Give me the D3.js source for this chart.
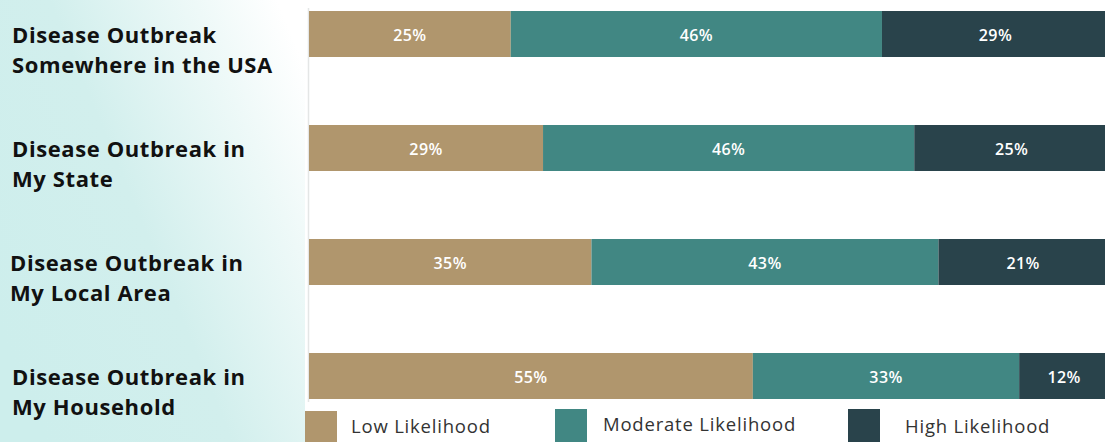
<!DOCTYPE html>
<html>
<head>
<meta charset="utf-8">
<script src="https://cdn.jsdelivr.net/npm/d3@7"></script>
<style>
  html, body { margin: 0; padding: 0; background: #ffffff; }
  svg { display: block; }
</style>
</head>
<body>
<script>
// Survey: perceived likelihood of a disease outbreak, by scope
const categories = [
  ["Disease Outbreak", "Somewhere in the USA"],
  ["Disease Outbreak in", "My State"],
  ["Disease Outbreak in", "My Local Area"],
  ["Disease Outbreak in", "My Household"]
];
const seriesNames = ["Low Likelihood", "Moderate Likelihood", "High Likelihood"];
const lowValues = [25, 29, 35, 55];
const moderateValues = [46, 46, 43, 33];
const highValues = [29, 25, 21, 12];
const colors = ["#b0966d", "#418783", "#29434b"];

const W = 1105, H = 442;
const svg = d3.select("body").append("svg").attr("width", W).attr("height", H);

// soft teal panel behind the category labels
const defs = svg.append("defs");
const grad = defs.append("linearGradient").attr("id", "panelGrad")
  .attr("x1", "0%").attr("y1", "75%").attr("x2", "100%").attr("y2", "15%");
grad.append("stop").attr("offset", "0%").attr("stop-color", "#cdeeec");
grad.append("stop").attr("offset", "45%").attr("stop-color", "#d2efed");
grad.append("stop").attr("offset", "80%").attr("stop-color", "#eef9f8");
grad.append("stop").attr("offset", "100%").attr("stop-color", "#ffffff");
svg.append("rect").attr("x", 0).attr("y", 0).attr("width", 305).attr("height", H)
  .attr("fill", "url(#panelGrad)");

const keys = categories.map((c, i) => i);
const x = d3.scaleLinear().domain([0, 100]).range([309, 1116]);
const y = d3.scaleBand().domain(keys).range([11, 399]).paddingInner(0.5965).paddingOuter(0);

// baseline axis
svg.append("line")
  .attr("x1", x(0) - 0.5).attr("x2", x(0) - 0.5)
  .attr("y1", 8).attr("y2", 402)
  .attr("stroke", "#e4e6e6").attr("stroke-width", 1.5);

const rows = keys.map(i => ({ i, vals: [lowValues[i], moderateValues[i], highValues[i]] }));
const stack = d3.stack().keys([0, 1, 2]).value((d, k) => d.vals[k]);
const stacked = stack(rows);

const layer = svg.append("g").selectAll("g").data(stacked).join("g")
  .attr("fill", (d, k) => colors[k]);

layer.selectAll("rect").data(d => d).join("rect")
  .attr("x", d => x(d[0]))
  .attr("y", d => y(d.data.i))
  .attr("width", d => x(d[1]) - x(d[0]))
  .attr("height", y.bandwidth());

layer.selectAll("text").data(d => d).join("text")
  .attr("x", d => Math.min((x(d[0]) + x(d[1])) / 2, (x(d[0]) + W) / 2 + 2))
  .attr("y", d => y(d.data.i) + y.bandwidth() / 2 + 1)
  .attr("text-anchor", "middle")
  .attr("dominant-baseline", "central")
  .attr("fill", "#ffffff")
  .attr("font-family", "'Open Sans', sans-serif")
  .attr("font-size", 16)
  .attr("font-weight", 600)
  .attr("letter-spacing", 0.4)
  .text(d => (d[1] - d[0]) + "%");

// category labels
const labels = svg.append("g").selectAll("text").data(keys).join("text")
  .attr("x", 12)
  .attr("y", i => y(i) + 32)
  .attr("font-family", "'Open Sans', sans-serif")
  .attr("font-weight", 700)
  .attr("font-size", 22)
  .attr("letter-spacing", 0.6)
  .attr("fill", "#111111");
labels.each(function(i) {
  const t = d3.select(this);
  categories[i].forEach((line, j) => {
    t.append("tspan").attr("x", i === 2 ? 10 : 12).attr("dy", j === 0 ? 0 : 30).text(line);
  });
});

// legend
const legendX = [305, 555, 848];
const legendTextX = [351, 603, 905];
const legend = svg.append("g").selectAll("g").data(seriesNames).join("g");
legend.append("rect")
  .attr("x", (d, k) => legendX[k])
  .attr("y", (d, k) => k === 0 ? 411 : 409)
  .attr("width", 32).attr("height", 34)
  .attr("fill", (d, k) => colors[k]);
legend.append("text")
  .attr("x", (d, k) => legendTextX[k])
  .attr("y", (d, k) => k === 1 ? 431 : 433)
  .attr("font-family", "'Open Sans', sans-serif")
  .attr("font-size", 18.5)
  .attr("letter-spacing", 0.8)
  .attr("fill", "#333333")
  .text(d => d);
</script>
</body>
</html>
